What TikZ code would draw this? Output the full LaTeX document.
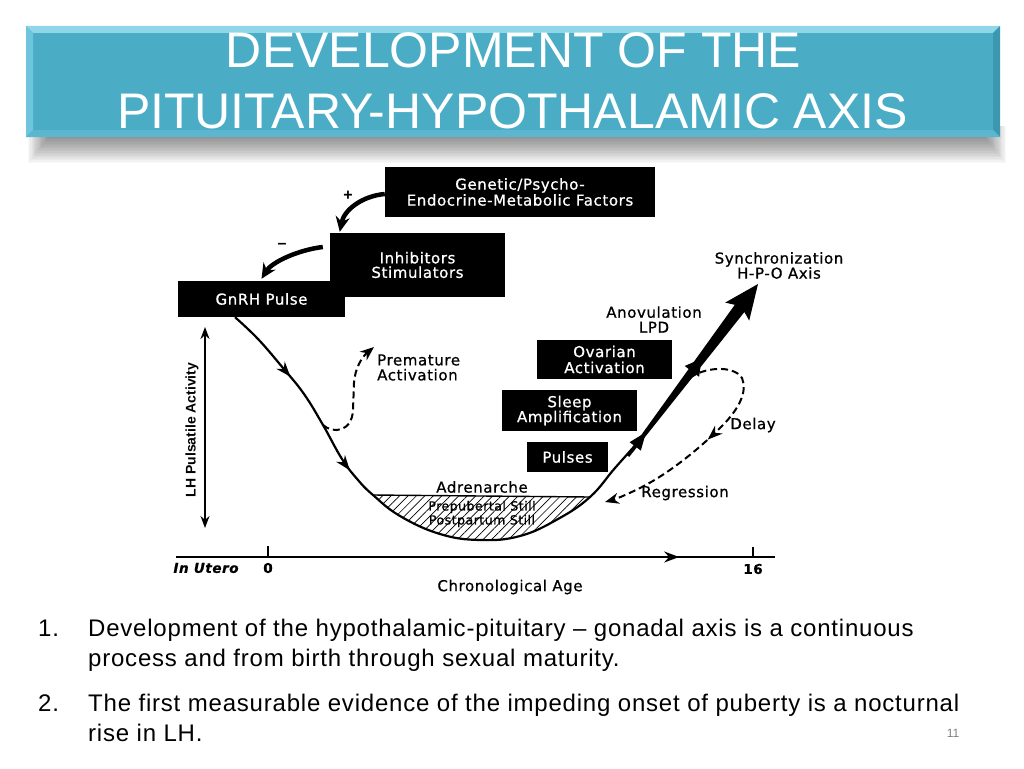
\documentclass[tikz,border=0pt]{standalone}
\usepackage{fontspec}
\setmainfont{Liberation Sans}
\newfontfamily\diag[LetterSpace=4,FakeBold=0.8]{DejaVu Sans}
\newfontfamily\bodyfont[LetterSpace=3.3]{Liberation Sans}
\usetikzlibrary{arrows.meta,decorations.markings,patterns.meta,calc}
\definecolor{bannerface}{HTML}{4BACC6}
\definecolor{bevtop}{HTML}{8FD6E8}
\definecolor{bevleft}{HTML}{6EC5DC}
\definecolor{bevright}{HTML}{3C97B0}
\definecolor{bevbot}{HTML}{5BB7CF}
\tikzset{
  blk/.style={fill=black,text=white,inner sep=0pt,align=center,font=\diag\fontsize{15}{16}\selectfont},
  lbl/.style={align=center,inner sep=0pt,font=\diag\fontsize{15}{15}\selectfont},
  mainline/.style={line width=2.2pt},
  dsh/.style={line width=2pt,dash pattern=on 7pt off 4pt},
  endtip/.style={-{Stealth[length=14pt,width=11pt]}},
  fb/.style={line width=4.5pt,-{Stealth[length=15pt,width=14pt]}},
  midarrow/.style={postaction={decorate,decoration={markings,mark=at position #1 with {\arrow{Stealth[length=15pt,width=11pt]}}}}},
  bodytext/.style={anchor=base west,inner sep=0pt,font=\bodyfont\fontsize{24}{30}\selectfont},
}
\begin{document}
\begin{tikzpicture}[x=1pt,y=-1pt]
\useasboundingbox (0,0) rectangle (1024,768);
\fill[white] (0,0) rectangle (1024,768);
% banner shadow
\foreach \i in {0,...,19}{
  \fill[black,opacity=0.028] (28+1.2*\i,126) rectangle (1006-1.2*\i,163-1.5*\i);
}
% banner with bevel
\fill[bannerface] (26,26) rectangle (1000,137);
\fill[bevtop] (26,26) -- (1000,26) -- (993,33) -- (33,33) -- cycle;
\fill[bevleft] (26,26) -- (33,33) -- (33,130) -- (26,137) -- cycle;
\fill[bevright] (1000,26) -- (993,33) -- (993,130) -- (1000,137) -- cycle;
\fill[bevbot] (26,137) -- (33,130) -- (993,130) -- (1000,137) -- cycle;
\node[anchor=base,inner sep=0pt,text=white,font=\fontsize{50}{61}\selectfont] (t1) at (513.5,67) {DEVELOPMENT OF THE};
\node[anchor=base,inner sep=0pt,text=white,font=\fontsize{50}{61}\selectfont] (t2) at (512.5,128) {PITUITARY-HYPOTHALAMIC AXIS};

% boxes
\node[blk,minimum width=270pt,minimum height=50pt] (gen) at (520,192) {Genetic/Psycho-\\Endocrine-Metabolic Factors};
\node[blk,minimum width=175pt,minimum height=64pt,font=\diag\fontsize{15}{14.5}\selectfont] (inh) at (417.5,265) {Inhibitors\\Stimulators};
\node[blk,minimum width=167pt,minimum height=36pt] (gnrh) at (261.5,299) {GnRH Pulse};
\node[blk,minimum width=135pt,minimum height=39pt] (ova) at (604.5,359.5) {Ovarian\\Activation};
\node[blk,minimum width=135pt,minimum height=41pt,font=\diag\fontsize{15}{15}\selectfont] (slp) at (569.5,410.5) {Sleep\\Amplification};
\node[blk,minimum width=81pt,minimum height=30pt] (pul) at (567.5,457) {Pulses};

% feedback arrows
\draw[fb] ([yshift=-2pt]gen.west) .. controls (362,196) and (344,210) .. ([xshift=10pt,yshift=1pt]inh.north west);
\node[lbl,font=\bfseries\fontsize{16}{16}\selectfont] (plus) at (348,196) {+};
\draw[fb] ([xshift=-7pt,yshift=18pt]inh.west) .. controls (298,250) and (272,262) .. ([yshift=2pt]gnrh.north);
\node[lbl,font=\bfseries\fontsize{16}{16}\selectfont] (minus) at (282,246) {–};

% labels
\node[lbl,align=left,anchor=west] (prem) at (377,367.5) {Premature\\Activation};
\node[lbl] (adr) at (482,487) {Adrenarche};
\node[lbl] (ano) at (654,319.5) {Anovulation\\LPD};
\node[lbl] (sync) at (779,265.5) {Synchronization\\H-P-O Axis};
\node[lbl] (del) at (753,425) {Delay};
\node[lbl] (reg) at (685,493) {Regression};
\node[lbl] (age) at (510,587) {Chronological Age};
\node[lbl,font=\diag\bfseries\itshape\fontsize{13.5}{14}\selectfont] (utero) at (206,568) {In Utero};
\node[lbl,font=\diag\bfseries\fontsize{13.5}{14}\selectfont] (zero) at (268,568) {0};
\node[lbl,font=\diag\bfseries\fontsize{13.5}{14}\selectfont] (sixteen) at (753,569) {16};
\node[lbl,rotate=90,font=\bfseries\fontsize{14}{14}\selectfont] (lh) at (192,430) {LH Pulsatile Activity};

% LH axis
\coordinate (lhtop) at (205,327);
\coordinate (lhbot) at (205,528);
\draw[line width=1.8pt,{Stealth[length=12pt,width=9pt]}-{Stealth[length=12pt,width=9pt]}] (lhtop) -- (lhbot);

% time axis
\coordinate (ax0) at (176,557);
\coordinate (ax1) at (775,557);
\draw[line width=1.8pt,midarrow=0.84] (ax0) -- (ax1);
\coordinate (tk0) at (268,557);
\coordinate (tk16) at (753,557);
\draw[line width=1.8pt] (tk0) -- ++(0,-11);
\draw[line width=1.8pt] (tk16) -- ++(0,-10);

% hatched still region
\coordinate (hL) at (373,495);
\coordinate (hR) at (590,497);
\fill[pattern={Lines[angle=45,distance=6pt,line width=0.7pt]}] (hL) -- (hR) plot[smooth,tension=0.7] coordinates {(hR) (558,519) (520,536) (480,540) (440,534) (400,516) (hL)} -- cycle;
\draw[line width=1.4pt] (hL) -- (hR);
\node[lbl,font=\diag\fontsize{12.5}{14}\selectfont] (still) at (482,514) {Prepubertal Still\\Postpartum Still};

% main curve
\coordinate (cstart) at ([xshift=-26.5pt]gnrh.south);
\coordinate (cend) at (640,440);
\draw[mainline,midarrow=0.15,midarrow=0.355] plot[smooth,tension=0.7] coordinates {(cstart) (258,339) (283,368) (304,394) (323,425) (342,459) (358,480) (hL) (400,516) (440,534) (480,540) (520,536) (558,519) (hR) (615,468) (cend)};

% thick tapered arrow
\fill (626.8,455.1) -- (734.8,304.8) -- (725.2,302.6) -- (758,284) -- (749.2,320.6) -- (744.4,312.0) -- (629.2,456.9) -- cycle;
\fill (646.1,432.1) -- (629.6,442.2) -- (640.8,450.6) -- cycle;
\fill (701.6,358.6) -- (684.7,366.0) -- (699.1,376.8) -- cycle;

% premature activation
\coordinate (pm0) at (323,425);
\coordinate (pm1) at (374,347);
\draw[dsh,endtip] (pm0) .. controls (333,434) and (352,432) .. (353,410) -- (354,383) .. controls (355,368) and (362,357) .. (pm1);

% delay / regression loop
\coordinate (d0) at (690,378);
\coordinate (d1) at (605,502);
\draw[dsh,endtip,midarrow=0.52] (d0) .. controls (702,368) and (733,364) .. (742,378) .. controls (748,392) and (738,410) .. (722,426) .. controls (698,450) and (668,474) .. (640,488) .. controls (628,494) and (616,499) .. (d1);

% body text
\node[bodytext] (n1) at (38,636) {1.};
\node[bodytext] (b1) at (88,636) {Development of the hypothalamic-pituitary – gonadal axis is a continuous};
\node[bodytext] (b1b) at (88,666) {process and from birth through sexual maturity.};
\node[bodytext] (n2) at (38,711) {2.};
\node[bodytext] (b2) at (88,711) {The first measurable evidence of the impeding onset of puberty is a nocturnal};
\node[bodytext] (b2b) at (88,741) {rise in LH.};
\node[inner sep=0pt,text=gray,font=\fontsize{12}{12}\selectfont] (pg) at (953,733) {11};
\end{tikzpicture}
\end{document}
